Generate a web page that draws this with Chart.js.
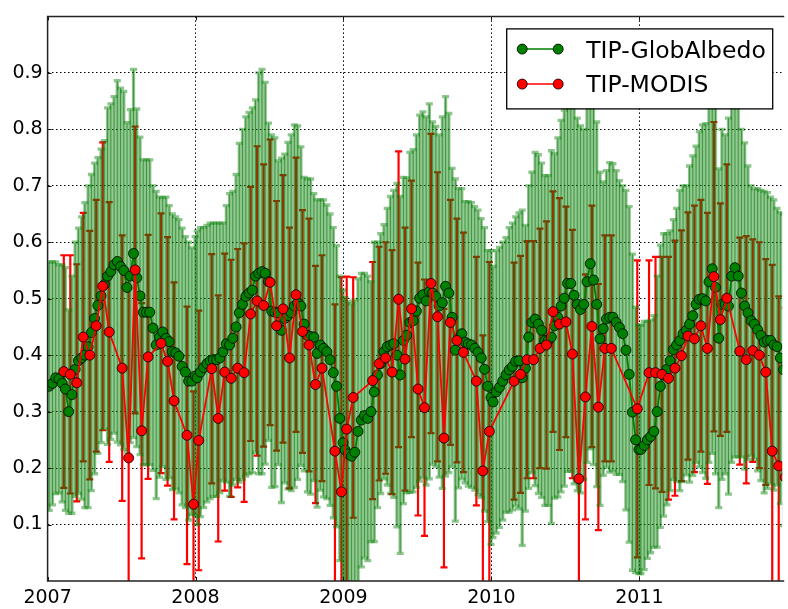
<!DOCTYPE html>
<html>
<head>
<meta charset="utf-8">
<script src="https://cdn.jsdelivr.net/npm/chart.js@4.4.0/dist/chart.umd.min.js"></script>
<style>
  html, body { margin: 0; padding: 0; background: #fff; }
</style>
</head>
<body>
<canvas id="chartTip" width="788" height="609"></canvas>
<script>
// TIP-GlobAlbedo (8-day) vs TIP-MODIS (16-day), 2007-2011

const yearStarts = [2007, 2008, 2009, 2010, 2011];

// TIP-GlobAlbedo: value and error, 46 composites per year
const glob2007 = [.345,.35,.36,.358,.35,.34,.30,.33,.375,.39,.395,.40,.415,.44,.465,.488,.505,.525,.54,.548,.56,.566,.557,.55,.52,.54,.58,.537,.505,.476,.476,.476,.448,.418,.432,.441,.43,.424,.406,.404,.398,.38,.37,.354,.354,.363];
const globErr2007 = [.22,.215,.205,.202,.21,.215,.18,.21,.225,.235,.25,.27,.285,.28,.275,.262,.26,.255,.298,.297,.298,.32,.316,.317,.292,.295,.326,.299,.281,.27,.27,.27,.252,.272,.248,.238,.25,.241,.244,.241,.242,.245,.24,.246,.236,.247];
const glob2008 = [.36,.37,.378,.385,.39,.392,.392,.395,.406,.42,.418,.43,.45,.475,.49,.504,.51,.515,.54,.545,.548,.545,.53,.478,.476,.475,.444,.465,.47,.475,.487,.493,.487,.455,.435,.433,.432,.403,.418,.412,.406,.392,.369,.345,.288,.245];
const globErr2008 = [.26,.256,.248,.245,.244,.242,.242,.239,.228,.245,.268,.26,.27,.30,.31,.318,.32,.323,.312,.355,.358,.338,.281,.312,.309,.269,.305,.291,.307,.315,.321,.313,.282,.26,.277,.279,.254,.272,.257,.263,.26,.258,.257,.249,.252,.27];
const glob2009 = [.232,.225,.221,.228,.265,.285,.293,.288,.30,.335,.365,.385,.406,.415,.418,.42,.40,.365,.426,.435,.458,.461,.478,.501,.507,.496,.513,.51,.504,.487,.493,.522,.51,.467,.409,.43,.438,.423,.42,.418,.412,.405,.395,.375,.345,.325];
const globErr2009 = [.27,.27,.27,.27,.27,.26,.252,.252,.23,.265,.235,.23,.225,.245,.263,.272,.304,.316,.289,.279,.301,.303,.312,.324,.324,.326,.332,.303,.301,.303,.329,.336,.318,.264,.303,.265,.257,.249,.252,.252,.251,.252,.247,.251,.24,.26];
const glob2010 = [.317,.335,.343,.354,.365,.374,.38,.389,.39,.36,.377,.432,.458,.464,.455,.444,.426,.426,.432,.452,.467,.487,.501,.527,.527,.506,.49,.481,.49,.53,.562,.533,.49,.429,.447,.464,.467,.467,.458,.449,.438,.409,.366,.299,.25,.233];
const globErr2010 = [.24,.25,.248,.246,.243,.252,.254,.256,.262,.297,.253,.268,.266,.295,.30,.296,.292,.292,.33,.305,.318,.329,.333,.333,.333,.334,.33,.325,.31,.32,.328,.327,.323,.295,.26,.263,.274,.272,.269,.26,.262,.283,.297,.28,.235,.22];
const glob2011 = [.233,.24,.25,.256,.265,.30,.345,.365,.375,.39,.41,.418,.426,.438,.444,.455,.47,.49,.499,.50,.496,.53,.553,.52,.43,.49,.49,.487,.54,.555,.54,.51,.487,.475,.461,.455,.445,.435,.423,.426,.426,.418,.415,.395,.374,.36];
const globErr2011 = [.22,.22,.21,.206,.205,.24,.25,.25,.24,.23,.23,.242,.266,.262,.256,.28,.283,.28,.297,.308,.314,.32,.327,.33,.30,.31,.30,.333,.33,.335,.32,.29,.289,.26,.239,.239,.25,.257,.267,.262,.254,.257,.245,.258,.276,.27];

// TIP-MODIS: value and error, 23 composites per year (null = missing)
const modis2007 = [null,null,.371,.366,.351,.432,.40,.452,.522,.441,null,.377,.218,.551,.266,.397,null,.421,.389,.319,null,.258,.136];
const modisErr2007 = [null,null,.206,.211,.21,.22,.22,.223,.255,.23,null,.235,.30,.254,.226,.216,null,.23,.22,.21,null,.228,.20];
const modis2008 = [.249,null,.376,.288,.37,.359,.377,.369,.473,.496,.488,.529,.452,.482,.395,.507,.442,.418,.348,.377,null,.23,.158];
const modisErr2008 = [.23,null,.203,.218,.21,.21,.211,.229,.225,.274,.25,.253,.221,.237,.231,.243,.215,.224,.21,.20,null,.26,.38];
const modis2009 = [.269,.325,null,null,.355,.385,.395,.37,.499,.393,.482,.34,.307,.527,.468,.253,.458,.426,.405,null,.354,.195,.265];
const modisErr2009 = [.27,.213,null,null,.21,.207,.205,.216,.262,.233,.227,.224,.227,.265,.256,.229,.217,.216,.212,null,.22,.24,.30];
const modis2010 = [null,null,null,.354,.366,.392,.392,.412,.418,.477,.455,.459,.402,.181,.326,.451,.308,.412,.412,null,null,null,.305];
const modisErr2010 = [null,null,null,.21,.21,.21,.21,.212,.219,.213,.223,.204,.22,.30,.217,.214,.218,.20,.20,null,null,null,.263];
const modis2011 = [null,.369,.369,.366,.359,.377,.399,.434,.429,.452,.412,.539,.463,.501,null,.407,.392,.408,.40,.37,.23,.204,.184];
const modisErr2011 = [null,.199,.205,.208,.215,.226,.222,.219,.236,.223,.24,.274,.206,.237,null,.201,.219,.197,.20,.20,.33,.30,.30];

const xTicksYears = [2007, 2008, 2009, 2010, 2011];

// colours (matplotlib classic)
const colGreen = '#008000';
const colRed = '#ff0000';

// decimal-year points from the composite arrays
function buildPoints(values, errs, step, offset) {
  const pts = [];
  yearStarts.forEach(function (yr, j) {
    values[j].forEach(function (v, i) {
      if (v === null) return;
      pts.push({ x: yr + (offset + step * i) / 365, y: v, err: errs[j][i] });
    });
  });
  return pts;
}

const globPts = buildPoints(
  [glob2007, glob2008, glob2009, glob2010, glob2011],
  [globErr2007, globErr2008, globErr2009, globErr2010, globErr2011], 8, 4);
const modisPts = buildPoints(
  [modis2007, modis2008, modis2009, modis2010, modis2011],
  [modisErr2007, modisErr2008, modisErr2009, modisErr2010, modisErr2011], 16, 8);

function drawBars(ctx, xs, ys, pts, color, width, capHalf) {
  ctx.strokeStyle = color;
  ctx.lineWidth = width;
  pts.forEach(function (p) {
    const x = xs.getPixelForValue(p.x);
    const yTop = ys.getPixelForValue(p.y + p.err);
    const yBot = ys.getPixelForValue(p.y - p.err);
    ctx.beginPath();
    ctx.moveTo(x, yBot); ctx.lineTo(x, yTop);
    if (capHalf) {
      ctx.moveTo(x - capHalf, yTop); ctx.lineTo(x + capHalf, yTop);
      ctx.moveTo(x - capHalf, yBot); ctx.lineTo(x + capHalf, yBot);
    }
    ctx.stroke();
  });
}

// error bars under the lines and markers
const errorBarsPlugin = {
  id: 'errorBars',
  beforeDatasetsDraw(chart) {
    const ctx = chart.ctx, a = chart.chartArea;
    const xs = chart.scales.x, ys = chart.scales.y;
    ctx.save();
    ctx.beginPath();
    ctx.rect(a.left, a.top, a.right - a.left, a.bottom - a.top);
    ctx.clip();
    drawBars(ctx, xs, ys, modisPts, colRed, 2.2, 3.5);
    drawBars(ctx, xs, ys, globPts, 'rgba(0,128,0,0.45)', 3.3, 3.5);
    drawBars(ctx, xs, ys, globPts, 'rgba(0,110,0,0.55)', 1, 0);
    ctx.restore();
  }
};

function legendMarker(ctx, x, y, fill) {
  ctx.beginPath();
  ctx.arc(x, y, 5, 0, Math.PI * 2);
  ctx.fillStyle = fill;
  ctx.fill();
  ctx.lineWidth = 0.8;
  ctx.strokeStyle = '#000';
  ctx.stroke();
}

// spines, inner ticks and the legend box
const framePlugin = {
  id: 'frameLegend',
  afterDraw(chart) {
    const ctx = chart.ctx, a = chart.chartArea;
    const xs = chart.scales.x, ys = chart.scales.y;
    ctx.save();
    ctx.strokeStyle = '#111';
    ctx.lineWidth = 1;
    xTicksYears.forEach(function (yr) {
      const x = Math.round(xs.getPixelForValue(yr)) + 0.5;
      ctx.beginPath();
      ctx.moveTo(x, a.top); ctx.lineTo(x, a.top + 4);
      ctx.moveTo(x, a.bottom); ctx.lineTo(x, a.bottom - 4);
      ctx.stroke();
    });
    for (let k = 1; k < 10; k++) {
      const y = Math.round(ys.getPixelForValue(k / 10)) + 0.5;
      ctx.beginPath();
      ctx.moveTo(a.left, y); ctx.lineTo(a.left + 4, y);
      ctx.stroke();
    }
    ctx.strokeStyle = '#222';
    ctx.lineWidth = 1.5;
    ctx.beginPath();
    ctx.moveTo(a.right + 2, a.top); ctx.lineTo(a.left, a.top);
    ctx.lineTo(a.left, a.bottom); ctx.lineTo(a.right + 2, a.bottom);
    ctx.stroke();

    // legend
    const lx = a.right - 276, ly = a.top + 12, lw = 266, lh = 80;
    ctx.fillStyle = '#fff';
    ctx.fillRect(lx, ly, lw, lh);
    ctx.strokeStyle = '#000';
    ctx.lineWidth = 1.3;
    ctx.strokeRect(lx + 0.5, ly + 0.5, lw, lh);
    const rows = [
      { label: 'TIP-GlobAlbedo', color: colGreen, y: ly + 20.7, base: ly + 29.3 },
      { label: 'TIP-MODIS', color: colRed, y: ly + 55.7, base: ly + 64 }
    ];
    ctx.font = '23.5px "DejaVu Sans"';
    ctx.textBaseline = 'alphabetic';
    rows.forEach(function (r) {
      ctx.strokeStyle = r.color;
      ctx.lineWidth = 1.5;
      ctx.beginPath();
      ctx.moveTo(lx + 16, r.y); ctx.lineTo(lx + 52, r.y);
      ctx.stroke();
      legendMarker(ctx, lx + 16, r.y, r.color);
      legendMarker(ctx, lx + 52, r.y, r.color);
      ctx.fillStyle = '#000';
      ctx.fillText(r.label, lx + 80, r.base);
    });
    ctx.restore();
  }
};

new Chart(document.getElementById('chartTip'), {
  type: 'line',
  data: {
    datasets: [
      {
        label: 'TIP-MODIS',
        data: modisPts.map(function (p) { return { x: p.x, y: p.y }; }),
        borderColor: colRed,
        backgroundColor: colRed,
        borderWidth: 1.8,
        pointRadius: 5,
        pointBackgroundColor: colRed,
        pointBorderColor: '#000',
        pointBorderWidth: 0.8,
        tension: 0,
        clip: 0
      },
      {
        label: 'TIP-GlobAlbedo',
        data: globPts.map(function (p) { return { x: p.x, y: p.y }; }),
        borderColor: colGreen,
        backgroundColor: colGreen,
        borderWidth: 1.8,
        pointRadius: 5,
        pointBackgroundColor: colGreen,
        pointBorderColor: '#000',
        pointBorderWidth: 0.8,
        tension: 0,
        clip: 0
      }
    ]
  },
  options: {
    responsive: false,
    animation: false,
    events: [],
    devicePixelRatio: 1,
    layout: { padding: { top: 4, right: 0, left: 0, bottom: 0 } },
    plugins: { legend: { display: false }, tooltip: { enabled: false } },
    scales: {
      x: {
        type: 'linear',
        min: 2007,
        max: 2011.966,
        z: 1,
        grid: { color: '#000', lineWidth: 1, drawTicks: false },
        border: { display: false, dash: [1.5, 2.5] },
        ticks: {
          stepSize: 1,
          includeBounds: false,
          autoSkip: false,
          maxRotation: 0,
          padding: 6,
          color: '#000',
          font: { family: 'DejaVu Sans', size: 19 },
          callback: function (v) { return Number.isInteger(v) ? String(v) : null; }
        },
        afterFit: function (s) { s.height = 28; }
      },
      y: {
        min: 0,
        max: 1,
        z: 1,
        grid: { color: '#000', lineWidth: 1, drawTicks: false },
        border: { display: false, dash: [1.5, 2.5] },
        ticks: {
          stepSize: 0.1,
          padding: 5,
          color: '#000',
          font: { family: 'DejaVu Sans', size: 19 },
          callback: function (v) { return (v < 0.05 || v > 0.95) ? null : v.toFixed(1); }
        },
        afterFit: function (s) { s.width = 47.6; }
      }
    }
  },
  plugins: [errorBarsPlugin, framePlugin]
});
</script>
</body>
</html>
